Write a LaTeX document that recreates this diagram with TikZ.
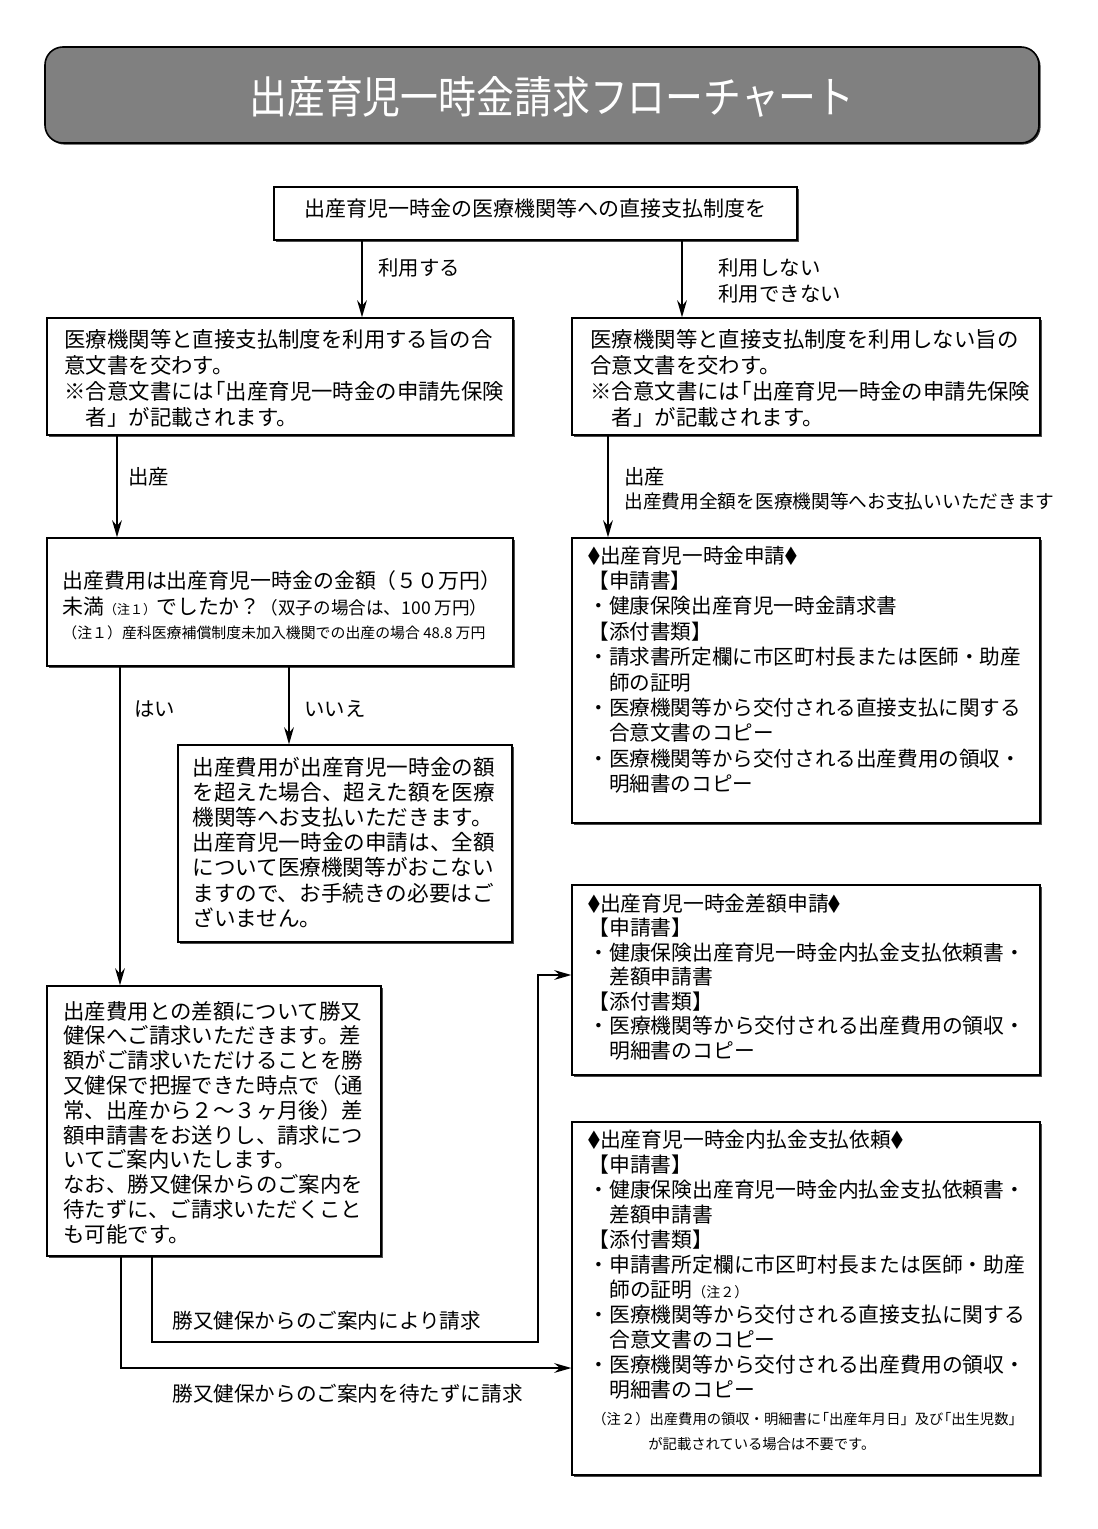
\documentclass[tikz,border=0pt]{standalone}
\usepackage{fontspec}
\setmainfont{Noto Sans CJK JP}
\usetikzlibrary{arrows.meta,fit,shadows}
\definecolor{ttlgray}{RGB}{128,128,128}
\newcommand\fs[2]{\fontsize{#1pt}{#2pt}\selectfont}
\newcommand\tblock[3]{\parbox[t]{400pt}{\fs{#1}{#2}#3}}
\newcommand\dia{{\fontsize{9.5pt}{9pt}\selectfont\scalebox{0.62}[1]{◆}}}
\newcommand\lkg{\kern-0.45em「}
\begin{document}
\begin{tikzpicture}[x=0.5pt,y=-0.5pt,
  box/.style={draw=black, line width=0.6pt, fill=white, inner sep=0pt,
    drop shadow={shadow xshift=0.8pt, shadow yshift=-0.8pt, fill=black!70, opacity=1}},
  arr/.style={line width=1.4pt, -{Stealth[length=8.5pt,width=4.8pt]}},
  txt/.style={inner sep=0pt, anchor=base west}]
\useasboundingbox (0,0) rectangle (1097,1529);
\fill[white] (0,0) rectangle (1097,1529);

% title
\node[fit={(45,47)(1039,143)}, inner sep=0pt, draw=black, line width=0.8pt, fill=ttlgray,
  rounded corners=9pt, drop shadow={shadow xshift=0.8pt, shadow yshift=-0.8pt, fill=black!80, opacity=1}] (ttl) {};
\node[inner sep=0pt, text=white, font=\fs{22}{22}] (ttlt) at (552,97) {\scalebox{0.86}[1]{出産育児一時金請求フローチャート}};

% boxes
\node[box, fit={(274,187)(797,240)}] (top) {};
\node[box, fit={(47,318)(513,435)}] (L2) {};
\node[box, fit={(572,318)(1040,435)}] (R2) {};
\node[box, fit={(47,538)(513,666)}] (L3) {};
\node[box, fit={(572,538)(1040,823)}] (RA) {};
\node[box, fit={(178,745)(512,942)}] (no) {};
\node[box, fit={(572,885)(1040,1075)}] (RB) {};
\node[box, fit={(47,986)(381,1256)}] (L4) {};
\node[box, fit={(572,1122)(1040,1475)}] (RC) {};

% texts
\node[inner sep=0pt, font=\fs{10.5}{12}] (topt) at (535,209) {出産育児一時金の医療機関等への直接支払制度を};

\node[txt] (L2t) at (64,348) {\tblock{10.7}{13}{医療機関等と直接支払制度を利用する旨の合\\意文書を交わす。\\※合意文書には\lkg 出産育児一時金の申請先保険\\　者」が記載されます。}};
\node[txt] (R2t) at (590,348) {\tblock{10.7}{13}{医療機関等と直接支払制度を利用しない旨の\\合意文書を交わす。\\※合意文書には\lkg 出産育児一時金の申請先保険\\　者」が記載されます。}};

\node[txt] (L3t) at (62,588) {\tblock{10.45}{13}{出産費用は出産育児一時金の金額（５０万円）\\未満{\fs{6.5}{8}（注１）}でしたか？{\fs{8.8}{10}（双子の場合は、100 万円）}}};
\node[txt, font=\fs{7.45}{9}] (L3n) at (62,638) {（注１）産科医療補償制度未加入機関での出産の場合 48.8 万円};

\node[txt] (RAt) at (588,563) {\tblock{10.3}{12.7}{\dia 出産育児一時金申請\dia\\【申請書】\\・健康保険出産育児一時金請求書\\【添付書類】\\・請求書所定欄に市区町村長または医師・助産\\　師の証明\\・医療機関等から交付される直接支払に関する\\　合意文書のコピー\\・医療機関等から交付される出産費用の領収・\\　明細書のコピー}};

\node[txt] (not) at (192,775) {\tblock{10.8}{12.6}{出産費用が出産育児一時金の額\\を超えた場合、超えた額を医療\\機関等へお支払いただきます。\\出産育児一時金の申請は、全額\\について医療機関等がおこない\\ますので、お手続きの必要はご\\ざいません。}};

\node[txt] (RBt) at (588,911) {\tblock{10.4}{12.25}{\dia 出産育児一時金差額申請\dia\\【申請書】\\・健康保険出産育児一時金内払金支払依頼書・\\　差額申請書\\【添付書類】\\・医療機関等から交付される出産費用の領収・\\　明細書のコピー}};

\node[txt] (L4t) at (63,1019) {\tblock{10.7}{12.4}{出産費用との差額について勝又\\健保へご請求いただきます。差\\額がご請求いただけることを勝\\又健保で把握できた時点で（通\\常、出産から２～３ヶ月後）差\\額申請書をお送りし、請求につ\\いてご案内いたします。\\なお、勝又健保からのご案内を\\待たずに、ご請求いただくこと\\も可能です。}};

\node[txt] (RCt) at (588,1147) {\tblock{10.4}{12.5}{\dia 出産育児一時金内払金支払依頼\dia\\【申請書】\\・健康保険出産育児一時金内払金支払依頼書・\\　差額申請書\\【添付書類】\\・申請書所定欄に市区町村長または医師・助産\\　師の証明{\fs{7}{8}（注２）}\\・医療機関等から交付される直接支払に関する\\　合意文書のコピー\\・医療機関等から交付される出産費用の領収・\\　明細書のコピー}};
\node[txt] (RCn) at (592,1424) {\tblock{7.15}{12.5}{（注２）出産費用の領収・明細書に\lkg 出産年月日」及び\lkg 出生児数」\\\hspace*{28pt}が記載されている場合は不要です。}};

% labels
\node[txt, font=\fs{10.2}{12}] (lb1) at (378,276) {利用する};
\node[txt] (lb2) at (718,276) {\tblock{10.2}{13}{利用しない\\利用できない}};
\node[txt, font=\fs{10.2}{12}] (lb3) at (128,484) {出産};
\node[txt, font=\fs{10.2}{12}] (lb4) at (624,484) {出産};
\node[txt, font=\fs{9.35}{11}] (lb5) at (624,508) {出産費用全額を医療機関等へお支払いいただきます};
\node[txt, font=\fs{10.2}{12}] (lb6) at (134,716) {はい};
\node[txt, font=\fs{10.2}{12}] (lb7) at (304,716) {いいえ};
\node[txt, font=\fs{10.3}{12}] (lb8) at (172,1328) {勝又健保からのご案内により請求};
\node[txt, font=\fs{10.3}{12}] (lb9) at (172,1401) {勝又健保からのご案内を待たずに請求};

% connectors
\coordinate (xa) at (362,0);
\coordinate (xb) at (682,0);
\coordinate (xc) at (117,0);
\coordinate (xd) at (608,0);
\coordinate (xe) at (120,0);
\coordinate (xf) at (289,0);
\draw[arr] (top.south -| xa) -- (L2.north -| xa);
\draw[arr] (top.south -| xb) -- (R2.north -| xb);
\draw[arr] (L2.south -| xc) -- (L3.north -| xc);
\draw[arr] (R2.south -| xd) -- (RA.north -| xd);
\draw[arr] (L3.south -| xe) -- (L4.north -| xe);
\draw[arr] (L3.south -| xf) -- (no.north -| xf);
\coordinate (j1) at (152,1342);
\coordinate (j2) at (538,1342);
\coordinate (j3) at (538,975);
\draw[arr] (L4.south -| j1) -- (j1) -- (j2) -- (j3) -- (RB.west |- j3);
\coordinate (m1) at (121,1368);
\draw[arr] (L4.south -| m1) -- (m1) -- (RC.west |- m1);
\end{tikzpicture}
\end{document}
